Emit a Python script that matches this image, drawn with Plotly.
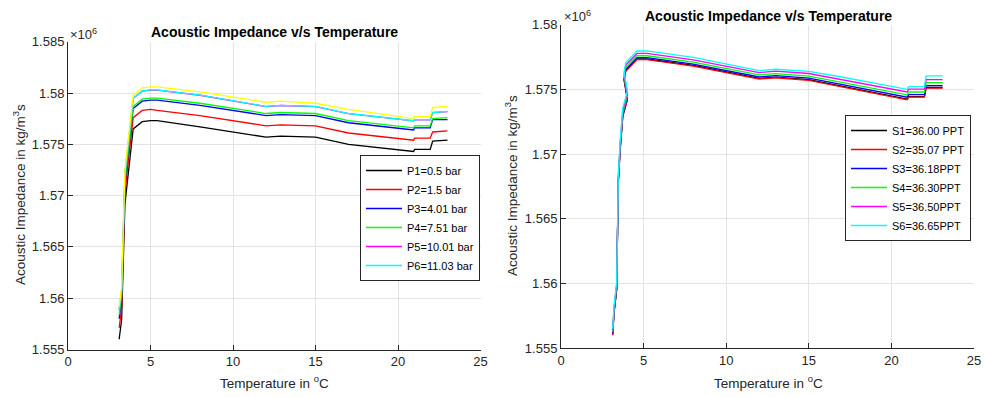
import plotly.graph_objects as go

# ---------------- Left chart data (values in units of 10^6 kg/m^2 s) ----------------
temp_left = [3.1, 3.25, 3.45, 3.95, 4.5, 5.0, 5.4, 8.0, 12.0, 12.9, 15.0, 17.0, 20.95, 21.0, 21.95, 22.1, 23.0]
p1 = [1.5560, 1.5579, 1.5692, 1.5765, 1.5772, 1.5773, 1.5773, 1.5767, 1.5757, 1.5758, 1.5757, 1.5750, 1.5743, 1.5745, 1.5745, 1.5753, 1.5754]
p2 = [1.5571, 1.5590, 1.5703, 1.5776, 1.5783, 1.5784, 1.5783, 1.5778, 1.5768, 1.5769, 1.5768, 1.5761, 1.5754, 1.5756, 1.5756, 1.5762, 1.5763]
p3 = [1.5580, 1.5599, 1.5712, 1.5785, 1.5792, 1.5793, 1.5793, 1.5788, 1.5778, 1.5779, 1.5778, 1.5771, 1.5764, 1.5766, 1.5766, 1.5774, 1.5774]
p4 = [1.5584, 1.5602, 1.5715, 1.5787, 1.5794, 1.5795, 1.5795, 1.5790, 1.5780, 1.5781, 1.5780, 1.5773, 1.5766, 1.5768, 1.5768, 1.5775, 1.5776]
p5 = [1.55888, 1.56078, 1.57218, 1.57948, 1.58018, 1.58028, 1.58028, 1.57978, 1.57868, 1.57878, 1.57868, 1.57798, 1.57728, 1.57738, 1.57738, 1.57808, 1.57818]
p6 = [1.5589, 1.5608, 1.5722, 1.5795, 1.5802, 1.5803, 1.5803, 1.5798, 1.5787, 1.5788, 1.5787, 1.5780, 1.5773, 1.5774, 1.5774, 1.5781, 1.5782]
p7 = [1.5592, 1.5611, 1.5725, 1.5798, 1.5805, 1.5806, 1.5806, 1.5801, 1.5791, 1.5792, 1.5790, 1.5784, 1.5775, 1.5777, 1.5777, 1.5786, 1.5787]
left_names = ["P1=0.5 bar", "P2=1.5 bar", "P3=4.01 bar", "P4=7.51 bar", "P5=10.01 bar", "P6=11.03 bar", "P7"]
left_colors = ["#000000", "#ff0000", "#0000ff", "#00ff00", "#ff00ff", "#00ffff", "#ffff00"]

# ---------------- Right chart data ----------------
temp_right = [3.13, 3.21, 3.37, 3.47, 3.58, 3.74, 4.02, 3.82, 3.92, 4.6, 5.2, 8.0, 12.0, 13.0, 15.0, 17.0, 20.95, 21.05, 22.0, 22.1, 23.1]
s1 = [1.55605, 1.55775, 1.55955, 1.56785, 1.57035, 1.57295, 1.57425, 1.57575, 1.57645, 1.57735, 1.57735, 1.57685, 1.57585, 1.57595, 1.57575, 1.57525, 1.57425, 1.57445, 1.57445, 1.57515, 1.57515]
s2 = [1.55600, 1.55770, 1.55950, 1.56780, 1.57030, 1.57290, 1.57420, 1.57570, 1.57640, 1.57730, 1.57730, 1.57680, 1.57580, 1.57590, 1.57570, 1.57520, 1.57420, 1.57440, 1.57440, 1.57510, 1.57510]
s3 = [1.55615, 1.55785, 1.55965, 1.56795, 1.57045, 1.57305, 1.57435, 1.57585, 1.57655, 1.57745, 1.57745, 1.57696, 1.57596, 1.57606, 1.57587, 1.57538, 1.57440, 1.57460, 1.57460, 1.57530, 1.57530]
s4 = [1.55625, 1.55795, 1.55980, 1.56810, 1.57060, 1.57320, 1.57450, 1.57600, 1.57670, 1.57760, 1.57760, 1.57711, 1.57612, 1.57622, 1.57603, 1.57555, 1.57458, 1.57480, 1.57480, 1.57552, 1.57552]
s5 = [1.55640, 1.55810, 1.55995, 1.56825, 1.57078, 1.57338, 1.57468, 1.57618, 1.57688, 1.57778, 1.57778, 1.57729, 1.57630, 1.57641, 1.57623, 1.57576, 1.57480, 1.57503, 1.57503, 1.57575, 1.57575]
s6 = [1.55650, 1.55825, 1.56010, 1.56845, 1.57097, 1.57357, 1.57487, 1.57637, 1.57707, 1.57797, 1.57797, 1.57748, 1.57645, 1.57656, 1.57640, 1.57596, 1.57501, 1.57522, 1.57522, 1.57605, 1.57605]
right_names = ["S1=36.00 PPT", "S2=35.07 PPT", "S3=36.18PPT", "S4=36.30PPT", "S5=36.50PPT", "S6=36.65PPT"]
right_colors = ["#000000", "#ff0000", "#0000ff", "#00ff00", "#ff00ff", "#00ffff"]

x_ticks = [0, 5, 10, 15, 20, 25]
left_yticks = [1.555, 1.56, 1.565, 1.57, 1.575, 1.58, 1.585]
left_yticktext = ["1.555", "1.56", "1.565", "1.57", "1.575", "1.58", "1.585"]
right_yticks = [1.555, 1.56, 1.565, 1.57, 1.575, 1.58]
right_yticktext = ["1.555", "1.56", "1.565", "1.57", "1.575", "1.58"]

title_text = "Acoustic Impedance v/s Temperature"
xlabel_text = "Temperature in <sup>o</sup>C"
ylabel_text = "Acoustic Impedance in kg/m<sup>3</sup>s"

W, H = 984, 397
FONT = "Liberation Sans, Arial, Helvetica, sans-serif"
AXC = "#262626"

fig = go.Figure()

left_series = [p1, p2, p3, p4, p5, p6, p7]
for i, ys in enumerate(left_series):
    fig.add_trace(go.Scatter(
        x=temp_left, y=ys, mode="lines", name=left_names[i],
        line=dict(color=left_colors[i], width=1.3),
        xaxis="x", yaxis="y", legend="legend",
        showlegend=(i < 6),
    ))

right_series = [s1, s2, s3, s4, s5, s6]
for i, ys in enumerate(right_series):
    fig.add_trace(go.Scatter(
        x=temp_right, y=ys, mode="lines", name=right_names[i],
        line=dict(color=right_colors[i], width=1.3),
        xaxis="x2", yaxis="y2", legend="legend2",
    ))

def px_x(p):
    return p / W

def px_y(p):
    return 1 - p / H

axis_common = dict(
    showline=True, linecolor=AXC, linewidth=1, mirror=False,
    ticks="inside", ticklen=5, tickcolor=AXC, tickwidth=1,
    showgrid=True, gridcolor="#e3e3e3", gridwidth=1, zeroline=False,
    tickfont=dict(family=FONT, size=13, color=AXC),
    automargin=False,
)

fig.update_layout(
    width=W, height=H, autosize=False,
    margin=dict(l=0, r=0, t=0, b=0, pad=0),
    paper_bgcolor="white", plot_bgcolor="white",
    hovermode=False,
    xaxis=dict(domain=[px_x(68), px_x(480.5)], range=[0, 25], tickvals=x_ticks,
               anchor="y", **axis_common),
    yaxis=dict(domain=[px_y(349.5), px_y(41.7)], range=[1.555, 1.585], tickvals=left_yticks,
               ticktext=left_yticktext, anchor="x", **axis_common),
    xaxis2=dict(domain=[px_x(561), px_x(974)], range=[0, 25], tickvals=x_ticks,
                anchor="y2", **axis_common),
    yaxis2=dict(domain=[px_y(348.3), px_y(24.7)], range=[1.555, 1.58], tickvals=right_yticks,
                ticktext=right_yticktext, anchor="x2", **axis_common),
    legend=dict(x=px_x(480), y=px_y(155), xanchor="right", yanchor="top",
                bgcolor="white", bordercolor=AXC, borderwidth=1,
                font=dict(family=FONT, size=11, color="#000000"),
                itemwidth=36, tracegroupgap=0),
    legend2=dict(x=px_x(971), y=px_y(115), xanchor="right", yanchor="top",
                 bgcolor="white", bordercolor=AXC, borderwidth=1,
                 font=dict(family=FONT, size=11, color="#000000"),
                 itemwidth=36, tracegroupgap=0),
    showlegend=True,
)

ann = []
def add_text(text, x, y, size=11, bold=False, angle=0, xanchor="center", yanchor="middle"):
    ann.append(dict(
        text=("<b>%s</b>" % text) if bold else text,
        x=px_x(x), y=px_y(y), xref="paper", yref="paper",
        xanchor=xanchor, yanchor=yanchor, showarrow=False, textangle=angle,
        font=dict(family=FONT, size=size, color="#000000" if bold else AXC),
    ))

add_text(title_text, 274, 32, size=14, bold=True)
add_text(title_text, 768, 16, size=14, bold=True)
add_text("×10<sup>6</sup>", 68, 34, size=13, xanchor="left")
add_text("×10<sup>6</sup>", 562, 16, size=13, xanchor="left")
add_text(xlabel_text, 274, 382, size=13.5)
add_text(xlabel_text, 768, 382, size=13.5)
add_text(ylabel_text, 19, 195, size=13.5, angle=-90)
add_text(ylabel_text, 511, 186, size=13.5, angle=-90)
fig.update_layout(annotations=ann)

fig.write_html(
    "out.html",
    config={"displayModeBar": False},
    post_script="document.body.style.margin='0';document.body.style.overflow='hidden';document.documentElement.style.overflow='hidden';",
)
